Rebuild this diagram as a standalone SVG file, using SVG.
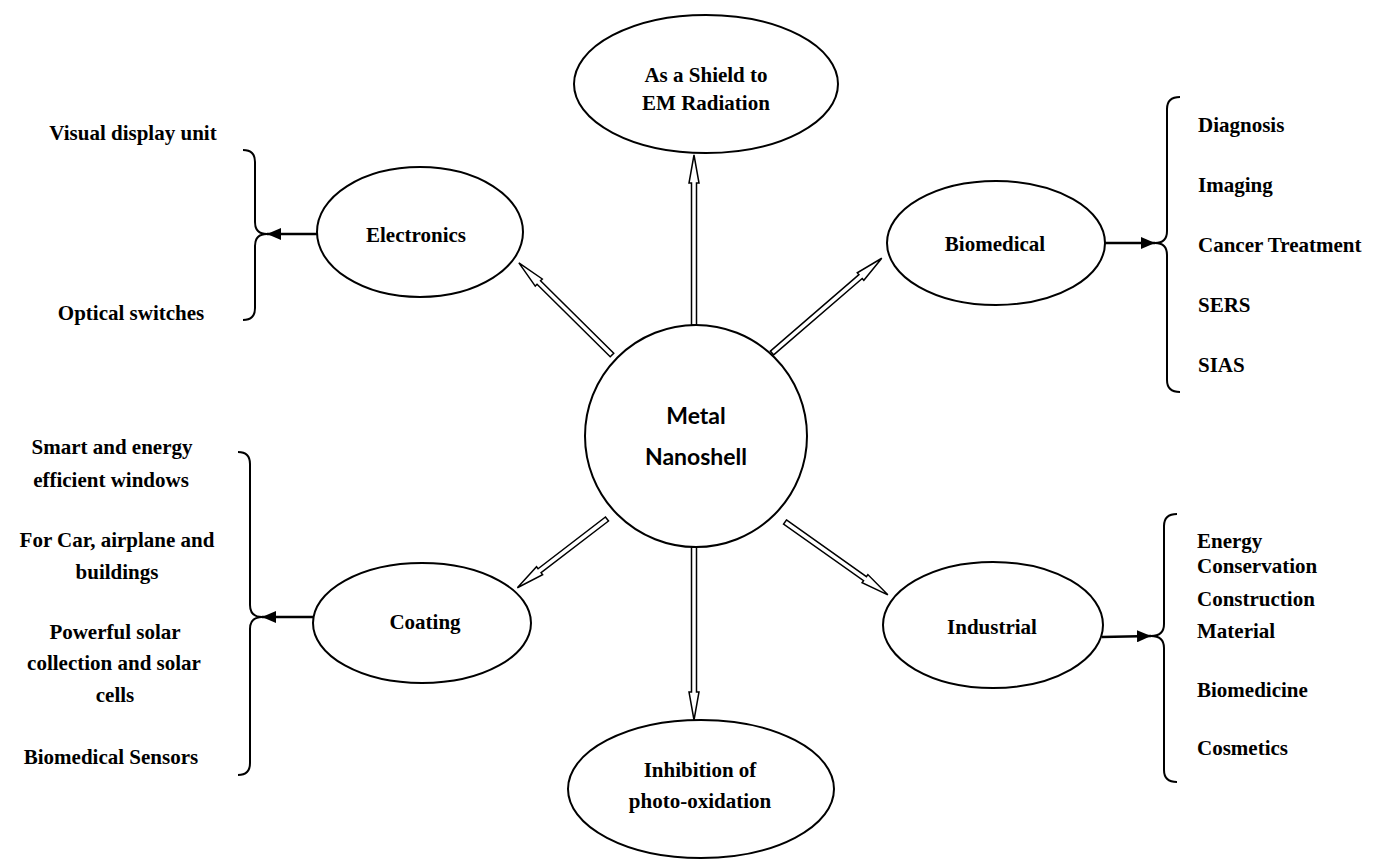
<svg xmlns="http://www.w3.org/2000/svg" width="1375" height="860" viewBox="0 0 1375 860">
<style>
.node{fill:#fff;stroke:#000;stroke-width:2}
.t{font-family:"Liberation Serif","Times New Roman",serif;font-weight:bold;font-size:21px;fill:#000}
.c{text-anchor:middle}
.m{font-family:Lato,"Open Sans",sans-serif;font-weight:bold;font-size:23px;text-anchor:middle;fill:#000}
.hollow{fill:#fff;stroke:#000;stroke-width:1.5;stroke-linejoin:miter}
.brace{fill:none;stroke:#000;stroke-width:2}
.solid{stroke:#000;stroke-width:2.5;fill:none}
</style>
<defs>
<marker id="ah" markerWidth="14" markerHeight="12" refX="14" refY="6" orient="auto" markerUnits="userSpaceOnUse">
<path d="M0,0 L14,6 L0,12 Z" fill="#000"/>
</marker>
</defs>
<rect width="1375" height="860" fill="#fff"/>

<g id="connectors">
<g transform="translate(694,325) rotate(-90)"><polygon class="hollow" points="0,-2.5 142,-2.5 142,-5 170,0 142,5 142,2.5 0,2.5"/></g>
<g transform="translate(612,355) rotate(-135.3)"><polygon class="hollow" points="0,-2.5 103,-2.5 103,-5 131,0 103,5 103,2.5 0,2.5"/></g>
<g transform="translate(772,353) rotate(-40.8)"><polygon class="hollow" points="0,-2.5 117,-2.5 117,-5 145,0 117,5 117,2.5 0,2.5"/></g>
<g transform="translate(607,519) rotate(142.5)"><polygon class="hollow" points="0,-2.5 85,-2.5 85,-5 113,0 85,5 85,2.5 0,2.5"/></g>
<g transform="translate(785,522) rotate(35.3)"><polygon class="hollow" points="0,-2.5 98,-2.5 98,-5 126,0 98,5 98,2.5 0,2.5"/></g>
<g transform="translate(694,547) rotate(90)"><polygon class="hollow" points="0,-2.5 145,-2.5 145,-5 173,0 145,5 145,2.5 0,2.5"/></g>
<line class="solid" x1="317" y1="234" x2="267" y2="234" marker-end="url(#ah)"/>
<line class="solid" x1="313" y1="617" x2="262" y2="617" marker-end="url(#ah)"/>
<line class="solid" x1="1105" y1="243" x2="1155" y2="243" marker-end="url(#ah)"/>
<line class="solid" x1="1102" y1="637" x2="1151" y2="636" marker-end="url(#ah)"/>
<path class="brace" d="M243,150 Q255,150 255,162 L255,222 Q255,234 267,234 Q255,234 255,246 L255,308 Q255,320 243,320"/>
<path class="brace" d="M238,452 Q250,452 250,464 L250,605 Q250,617 262,617 Q250,617 250,629 L250,763 Q250,775 238,775"/>
<path class="brace" d="M1180,97 Q1167,97 1167,109 L1167,231 Q1167,243 1155,243 Q1167,243 1167,255 L1167,380 Q1167,392 1180,392"/>
<path class="brace" d="M1177,514 Q1164,514 1164,526 L1164,624 Q1164,636 1151,636 Q1164,636 1164,648 L1164,770 Q1164,782 1177,782"/>
</g>

<g id="center">
<circle class="node" cx="696" cy="436" r="111"/>
<text class="m" x="696" y="424">Metal</text>
<text class="m" x="696" y="465">Nanoshell</text>
</g>

<g id="shield">
<ellipse class="node" cx="706" cy="84" rx="132" ry="69"/>
<text class="t c" x="706" y="82">As a Shield to</text>
<text class="t c" x="706" y="110">EM Radiation</text>
</g>

<g id="electronics">
<ellipse class="node" cx="420" cy="232" rx="103" ry="65"/>
<text class="t c" x="416" y="242">Electronics</text>
</g>

<g id="biomedical">
<ellipse class="node" cx="996" cy="243" rx="109" ry="62"/>
<text class="t c" x="995" y="251">Biomedical</text>
</g>

<g id="coating">
<ellipse class="node" cx="422" cy="623" rx="109" ry="60"/>
<text class="t c" x="425" y="629">Coating</text>
</g>

<g id="industrial">
<ellipse class="node" cx="993" cy="625" rx="110" ry="63"/>
<text class="t c" x="992" y="634">Industrial</text>
</g>

<g id="inhibition">
<ellipse class="node" cx="701" cy="789" rx="133" ry="69"/>
<text class="t c" x="700" y="777">Inhibition of</text>
<text class="t c" x="700" y="808">photo-oxidation</text>
</g>

<g id="electronics-list">
<text class="t c" x="133" y="140">Visual display unit</text>
<text class="t c" x="131" y="320">Optical switches</text>
</g>

<g id="coating-list">
<text class="t c" x="112" y="454">Smart and energy</text>
<text class="t c" x="111" y="487">efficient windows</text>
<text class="t c" x="117" y="547">For Car, airplane and</text>
<text class="t c" x="117" y="579">buildings</text>
<text class="t c" x="115" y="639">Powerful solar</text>
<text class="t c" x="114" y="670">collection and solar</text>
<text class="t c" x="115" y="702">cells</text>
<text class="t c" x="111" y="764">Biomedical Sensors</text>
</g>

<g id="biomedical-list">
<text class="t" x="1198" y="132">Diagnosis</text>
<text class="t" x="1198" y="192">Imaging</text>
<text class="t" x="1198" y="252">Cancer Treatment</text>
<text class="t" x="1198" y="312">SERS</text>
<text class="t" x="1198" y="372">SIAS</text>
</g>

<g id="industrial-list">
<text class="t" x="1197" y="548">Energy</text>
<text class="t" x="1197" y="573">Conservation</text>
<text class="t" x="1197" y="606">Construction</text>
<text class="t" x="1197" y="638">Material</text>
<text class="t" x="1197" y="697">Biomedicine</text>
<text class="t" x="1197" y="755">Cosmetics</text>
</g>
</svg>
